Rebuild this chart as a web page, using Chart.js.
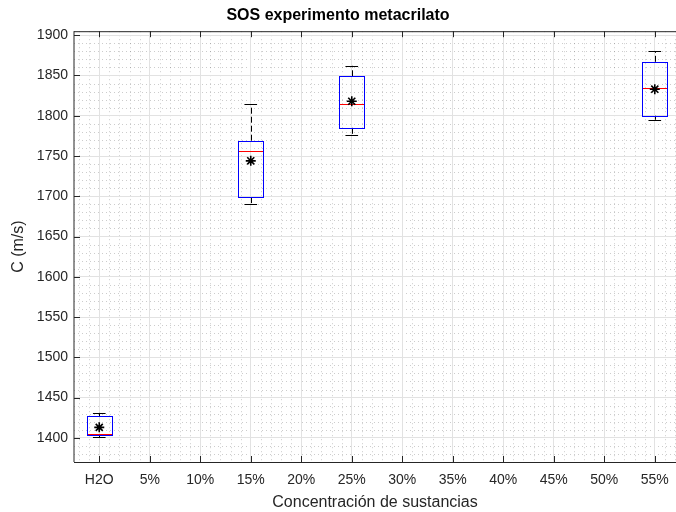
<!DOCTYPE html>
<html>
<head>
<meta charset="utf-8">
<script src="https://cdn.jsdelivr.net/npm/chart.js@4"></script>
<style>
  body { margin: 0; background: #fff; overflow: hidden; }
</style>
</head>
<body>
<canvas id="chart" width="676" height="512"></canvas>
<script>
// categories on the x axis
const categories = ['H2O', '5%', '10%', '15%', '20%', '25%', '30%', '35%', '40%', '45%', '50%', '55%'];

// box statistics per category (null = no data)
const whiskerLow  = [1401, null, null, 1690, null, 1776, null, null, null, null, null, 1795];
const q1          = [1404, null, null, 1699, null, 1785, null, null, null, null, null, 1800];
const medians     = [1405, null, null, 1756, null, 1814, null, null, null, null, null, 1834];
const q3          = [1427, null, null, 1769, null, 1849, null, null, null, null, null, 1867];
const whiskerHigh = [1431, null, null, 1814, null, 1862, null, null, null, null, null, 1880];
const means       = [1413, null, null, 1744, null, 1818, null, null, null, null, null, 1833];

const yTicks = [1400, 1450, 1500, 1550, 1600, 1650, 1700, 1750, 1800, 1850, 1900];

const font = 'Liberation Sans, Arial, Helvetica, sans-serif';
const axisColor = '#262626';

const meanPoints = [];
means.forEach((m, i) => {
  if (m !== null) meanPoints.push({ x: i + 1, y: m });
});

// minor dotted grid, drawn under everything
const minorGrid = {
  id: 'minorGrid',
  beforeDraw(chart) {
    const { ctx, chartArea: a, scales: { x, y } } = chart;
    ctx.save();
    ctx.strokeStyle = 'rgba(0,0,0,0.2)';
    ctx.lineWidth = 1;
    ctx.setLineDash([1, 3]);
    for (let v = 1370; v <= 1905; v += 10) {
      if (v % 50 === 0) continue;
      const py = Math.round(y.getPixelForValue(v)) + 0.5;
      ctx.beginPath(); ctx.moveTo(a.left, py); ctx.lineTo(a.right, py); ctx.stroke();
    }
    for (let k = 0; k <= 70; k++) {
      const v = 0.6 + k * 0.2;
      if (Math.abs(v - Math.round(v)) < 0.01) continue;
      if (v > x.max) break;
      const px = Math.round(x.getPixelForValue(v)) + 0.5;
      ctx.beginPath(); ctx.moveTo(px, a.top); ctx.lineTo(px, a.bottom); ctx.stroke();
    }
    ctx.restore();
  }
};

// boxes, whiskers, medians + axes frame with inward ticks
const boxes = {
  id: 'boxes',
  beforeDatasetsDraw(chart) {
    const { ctx, chartArea: a, scales: { x, y } } = chart;
    ctx.save();
    // frame
    ctx.strokeStyle = axisColor;
    ctx.lineWidth = 1;
    ctx.beginPath();
    ctx.moveTo(a.left, a.top + 0.5); ctx.lineTo(a.right, a.top + 0.5);
    ctx.moveTo(a.left, a.bottom + 0.5); ctx.lineTo(a.right, a.bottom + 0.5);
    ctx.moveTo(a.left, a.top); ctx.lineTo(a.left, a.bottom);
    ctx.stroke();
    ctx.beginPath();
    categories.forEach((c, i) => {
      const px = Math.round(x.getPixelForValue(i + 1)) + 0.5;
      ctx.moveTo(px, a.bottom); ctx.lineTo(px, a.bottom - 6);
      ctx.moveTo(px, a.top); ctx.lineTo(px, a.top + 6);
    });
    yTicks.forEach(v => {
      const py = Math.round(y.getPixelForValue(v)) + 0.5;
      ctx.moveTo(a.left, py); ctx.lineTo(a.left + 6, py);
    });
    ctx.stroke();

    categories.forEach((c, i) => {
      if (q1[i] === null) return;
      const cx = x.getPixelForValue(i + 1);
      const half = x.getPixelForValue(i + 1.25) - cx;
      const capHalf = half / 2;
      const yLo = y.getPixelForValue(whiskerLow[i]);
      const yQ1 = y.getPixelForValue(q1[i]);
      const yMed = y.getPixelForValue(medians[i]);
      const yQ3 = y.getPixelForValue(q3[i]);
      const yHi = y.getPixelForValue(whiskerHigh[i]);
      const xc = Math.round(cx) + 0.5;

      // whiskers (dashed)
      ctx.strokeStyle = '#000';
      ctx.lineWidth = 1;
      ctx.setLineDash([6, 3]);
      ctx.beginPath();
      ctx.moveTo(xc, yQ3); ctx.lineTo(xc, yHi);
      ctx.moveTo(xc, yQ1); ctx.lineTo(xc, yLo);
      ctx.stroke();
      ctx.setLineDash([]);
      // caps
      ctx.beginPath();
      ctx.moveTo(cx - capHalf, Math.round(yHi) + 0.5); ctx.lineTo(cx + capHalf, Math.round(yHi) + 0.5);
      ctx.moveTo(cx - capHalf, Math.round(yLo) + 0.5); ctx.lineTo(cx + capHalf, Math.round(yLo) + 0.5);
      ctx.stroke();
      // box
      ctx.strokeStyle = '#0000ff';
      ctx.strokeRect(Math.round(cx - half) + 0.5, Math.round(yQ3) + 0.5,
        Math.round(2 * half), Math.round(yQ1 - yQ3));
      // median
      ctx.strokeStyle = '#ff0000';
      ctx.beginPath();
      ctx.moveTo(Math.round(cx - half) + 1, Math.round(yMed) + 0.5);
      ctx.lineTo(Math.round(cx + half), Math.round(yMed) + 0.5);
      ctx.stroke();
    });
    ctx.restore();
  }
};

new Chart(document.getElementById('chart').getContext('2d'), {
  type: 'scatter',
  data: {
    datasets: [{
      label: 'Media',
      data: meanPoints,
      pointStyle: 'star',
      radius: 5,
      hoverRadius: 5,
      borderColor: '#000',
      backgroundColor: '#000',
      borderWidth: 1.6
    }]
  },
  options: {
    responsive: false,
    animation: false,
    layout: { padding: 0, autoPadding: false },
    plugins: {
      legend: { display: false },
      tooltip: { enabled: false },
      title: {
        display: true,
        text: 'SOS experimento metacrilato',
        color: '#000',
        font: { family: font, size: 16, weight: 'bold' },
        padding: { top: 6, bottom: 6 }
      }
    },
    scales: {
      x: {
        type: 'linear',
        min: 0.5,
        max: 12.42,
        afterBuildTicks: s => { s.ticks = categories.map((c, i) => ({ value: i + 1 })); },
        afterFit: s => { s.height = 50; s.paddingLeft = 0; s.paddingRight = 0; },
        ticks: {
          callback: v => categories[v - 1],
          color: axisColor,
          font: { family: font, size: 14 },
          padding: 10,
          maxRotation: 0,
          autoSkip: false
        },
        grid: { color: '#e2e2e2', drawTicks: false },
        border: { display: false },
        title: {
          display: true,
          text: 'Concentración de sustancias',
          color: axisColor,
          font: { family: font, size: 16 },
          padding: { top: 0, bottom: 0 }
        }
      },
      y: {
        min: 1370,
        max: 1905,
        afterBuildTicks: s => { s.ticks = yTicks.map(v => ({ value: v })); },
        afterFit: s => { s.width = 74; },
        ticks: {
          callback: v => String(v),
          color: axisColor,
          font: { family: font, size: 14 },
          padding: 6
        },
        grid: { color: '#e2e2e2', drawTicks: false },
        border: { display: false },
        title: {
          display: true,
          text: 'C (m/s)',
          color: axisColor,
          font: { family: font, size: 16 },
          padding: { top: 9, bottom: 0 }
        }
      }
    }
  },
  plugins: [minorGrid, boxes]
});
</script>
</body>
</html>
